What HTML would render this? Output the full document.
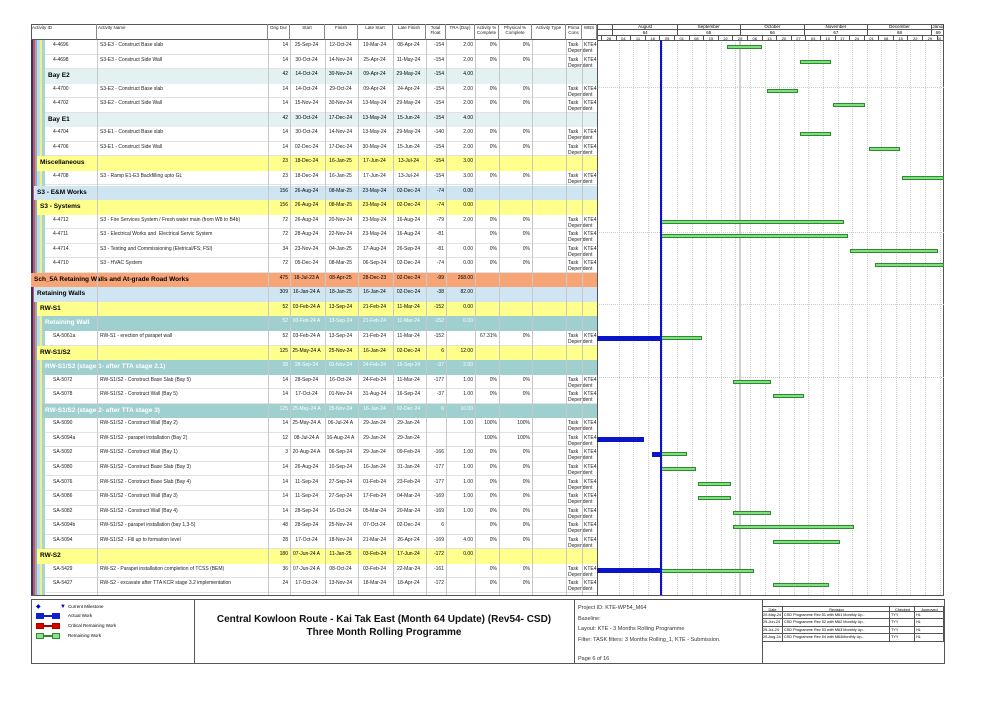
<!DOCTYPE html>
<html><head><meta charset="utf-8">
<style>
body{margin:0;background:#fff;width:1001px;height:708px;overflow:hidden;position:relative;font-family:"Liberation Sans",sans-serif;}
.a{position:absolute;box-sizing:border-box;white-space:nowrap;overflow:hidden;}
.t{font-size:5px;color:#222;line-height:6px;}
</style></head><body>
<div id="root"></div>
<script>
var R=document.getElementById('root');
function d(x,y,w,h,st,txt,cls){var e=document.createElement('div');e.className='a '+(cls||'');e.style.cssText='left:'+x+'px;top:'+y+'px;width:'+w+'px;height:'+h+'px;'+(st||'');if(txt!==undefined)e.innerHTML=txt;R.appendChild(e);return e;}
var C=[31,97,268,290,325,358,393,426,446,475,499,532,566,582,597];
var TOP=40,P=14.55,GL=597,GR=944,X0=604,S=2.085,DD=661;
var hdr=['Activity ID','Activity Name','Orig Dur','Start','Finish','Late Start','Late Finish','Total<br>Float','TRA (Day)','Activity %<br>Complete','Physical %<br>Complete','Activity Type','Prima<br>Cons','WBS'];
d(31,24,GR-31,596-24,'border:1px solid #555;');
for(var i=0;i<14;i++){d(C[i],24,C[i+1]-C[i],16,'border-right:1px solid #888;border-bottom:1px solid #555;font-size:4.5px;line-height:5px;padding:1px 1px;text-align:'+(i<2?'left':'center')+';color:#222;',hdr[i]);}
var rows=[
['t','4-4696','S3-E3 - Construct Base slab','14','25-Sep-24','12-Oct-24','19-Mar-24','08-Apr-24','-154','2.00','0%','0%'],
['t','4-4698','S3-E3 - Construct Side Wall','14','30-Oct-24','14-Nov-24','25-Apr-24','11-May-24','-154','2.00','0%','0%'],
['gE','','Bay E2','42','14-Oct-24','30-Nov-24','09-Apr-24','29-May-24','-154','4.00'],
['t','4-4700','S3-E2 - Construct Base slab','14','14-Oct-24','29-Oct-24','09-Apr-24','24-Apr-24','-154','2.00','0%','0%'],
['t','4-4702','S3-E2 - Construct Side Wall','14','15-Nov-24','30-Nov-24','13-May-24','29-May-24','-154','2.00','0%','0%'],
['gE','','Bay E1','42','30-Oct-24','17-Dec-24','13-May-24','15-Jun-24','-154','4.00'],
['t','4-4704','S3-E1 - Construct Base slab','14','30-Oct-24','14-Nov-24','13-May-24','29-May-24','-140','2.00','0%','0%'],
['t','4-4706','S3-E1 - Construct Side Wall','14','02-Dec-24','17-Dec-24','30-May-24','15-Jun-24','-154','2.00','0%','0%'],
['gY','','Miscellaneous','23','18-Dec-24','16-Jan-25','17-Jun-24','13-Jul-24','-154','3.00'],
['t','4-4708','S3 - Ramp E1-E3 Backfilling upto GL','23','18-Dec-24','16-Jan-25','17-Jun-24','13-Jul-24','-154','3.00','0%','0%'],
['gB','','S3 - E&amp;M Works','156','26-Aug-24','08-Mar-25','23-May-24','02-Dec-24','-74','0.00'],
['gY','','S3 - Systems','156','26-Aug-24','08-Mar-25','23-May-24','02-Dec-24','-74','0.00'],
['t','4-4712','S3 - Fire Services System / Fresh water main (from W8 to B4b)','72','26-Aug-24','20-Nov-24','23-May-24','16-Aug-24','-79','2.00','0%','0%'],
['t','4-4711','S3 - Electrical Works and &nbsp;Electrical Servic System','72','28-Aug-24','22-Nov-24','23-May-24','16-Aug-24','-81','','0%','0%'],
['t','4-4714','S3 - Testing and Commissioning (Eletrical/FS; FSI)','34','23-Nov-24','04-Jan-25','17-Aug-24','26-Sep-24','-81','0.00','0%','0%'],
['t','4-4710','S3 - HVAC System','72','05-Dec-24','08-Mar-25','06-Sep-24','02-Dec-24','-74','0.00','0%','0%'],
['gO','','Sch_5A Retaining Walls and At-grade Road Works','475','18-Jul-23 A','08-Apr-25','28-Dec-23','02-Dec-24','-99','268.00'],
['gB','','Retaining Walls','309','16-Jan-24 A','18-Jan-25','16-Jan-24','02-Dec-24','-38','82.00'],
['gY','','RW-S1','52','03-Feb-24 A','13-Sep-24','21-Feb-24','11-Mar-24','-152','0.00'],
['gT','','Retaining Wall','52','03-Feb-24 A','13-Sep-24','21-Feb-24','11-Mar-24','-152','0.00'],
['t','SA-5061a','RW-S1 - erection of parapet wall','52','03-Feb-24 A','13-Sep-24','21-Feb-24','11-Mar-24','-152','','67.31%','0%'],
['gY','','RW-S1/S2','125','25-May-24 A','25-Nov-24','16-Jan-24','02-Dec-24','6','12.00'],
['gT','','RW-S1/S2 (stage 1- after TTA stage 2.1)','28','28-Sep-24','01-Nov-24','24-Feb-24','16-Sep-24','-37','2.00'],
['t','SA-5072','RW-S1/S2 - Construct Base Slab (Bay 5)','14','28-Sep-24','16-Oct-24','24-Feb-24','11-Mar-24','-177','1.00','0%','0%'],
['t','SA-5078','RW-S1/S2 - Construct Wall (Bay 5)','14','17-Oct-24','01-Nov-24','31-Aug-24','16-Sep-24','-37','1.00','0%','0%'],
['gT','','RW-S1/S2 (stage 2- after TTA stage 3)','125','25-May-24 A','25-Nov-24','16-Jan-24','02-Dec-24','6','10.00'],
['t','SA-5090','RW-S1/S2 - Construct Wall (Bay 2)','14','25-May-24 A','06-Jul-24 A','29-Jan-24','29-Jan-24','','1.00','100%','100%'],
['t','SA-5094a','RW-S1/S2 - parapet installation (Bay 2)','12','08-Jul-24 A','16-Aug-24 A','29-Jan-24','29-Jan-24','','','100%','100%'],
['t','SA-5092','RW-S1/S2 - Construct Wall (Bay 1)','3','20-Aug-24 A','06-Sep-24','29-Jan-24','09-Feb-24','-166','1.00','0%','0%'],
['t','SA-5080','RW-S1/S2 - Construct Base Slab (Bay 3)','14','26-Aug-24','10-Sep-24','16-Jan-24','31-Jan-24','-177','1.00','0%','0%'],
['t','SA-5076','RW-S1/S2 - Construct Base Slab (Bay 4)','14','11-Sep-24','27-Sep-24','01-Feb-24','23-Feb-24','-177','1.00','0%','0%'],
['t','SA-5086','RW-S1/S2 - Construct Wall (Bay 3)','14','11-Sep-24','27-Sep-24','17-Feb-24','04-Mar-24','-169','1.00','0%','0%'],
['t','SA-5082','RW-S1/S2 - Construct Wall (Bay 4)','14','28-Sep-24','16-Oct-24','05-Mar-24','20-Mar-24','-169','1.00','0%','0%'],
['t','SA-5094b','RW-S1/S2 - parapet installation (bay 1,3-5)','48','28-Sep-24','25-Nov-24','07-Oct-24','02-Dec-24','6','','0%','0%'],
['t','SA-5094','RW-S1/S2 - Fill up to formation level','28','17-Oct-24','18-Nov-24','21-Mar-24','26-Apr-24','-169','4.00','0%','0%'],
['gY','','RW-S2','180','07-Jun-24 A','11-Jan-25','03-Feb-24','17-Jun-24','-172','0.00'],
['t','SA-5429','RW-S2 - Parapet installation completion of TCSS (BEM)','36','07-Jun-24 A','08-Oct-24','03-Feb-24','22-Mar-24','-161','','0%','0%'],
['t','SA-5427','RW-S2 - excavate after TTA KCR stage 3.2 implementation','24','17-Oct-24','13-Nov-24','18-Mar-24','18-Apr-24','-172','','0%','0%']
];
var G={gE:['#e4f1f3',45,'#000'],gY:['#ffff8c',37,'#000'],gB:['#cfe6f2',34,'#000'],gO:['#f7a477',31,'#000'],gT:['#9fcfcf',42,'#fff']};
var M={Jan:0,Feb:1,Mar:2,Apr:3,May:4,Jun:5,Jul:6,Aug:7,Sep:8,Oct:9,Nov:10,Dec:11};
function dx(s){var p=s.split(' ')[0].split('-');var t=Date.UTC(2000+ +p[2],M[p[1]],+p[0]);var b=Date.UTC(2024,6,28);return X0+(t-b)/864e5*S;}
var sc=[[31,2,'#2b2f8f'],[33,2,'#d9553a'],[35,2,'#8aa9c9'],[37,3,'#b9dcee'],[40,2,'#f2f07a'],[42,3,'#a8d4d4']];
sc.forEach(function(s){d(s[0],TOP,s[1],595-TOP,'background:'+s[2]+';');});
for(var k=0;k<24;k++){var wx=X0+k*7*S;if(k>0)d(wx,TOP,0,595-TOP,'border-left:1px dotted #cfcfcf;');}
[232,304,377,87].forEach(function(h){d(GL,h,GR-GL,0,'border-top:1px dotted #ccc;');});
d(739,TOP,2,595-TOP,'background:#cfcfcf;');
rows.forEach(function(r,i){
 var y=TOP+i*P,g=G[r[0]];
 if(g){d(g[1],y,C[14]-g[1],P,'background:'+g[0]+';');
  d(g[1]+3,y,C[2]-g[1],P,'font-weight:bold;font-size:6.5px;line-height:'+P+'px;color:'+g[2]+';',r[2]);
 } else {
  d(45,y,C[14]-45,P,'background:#fff;border-bottom:1px solid #e2e2e2;');
  d(C[0]+22,y+2,C[1]-C[0]-22,8,'',r[1],'t');
  d(C[1]+3,y+2,C[2]-C[1]-3,8,'',r[2],'t');
  d(C[12]+2,y+2,34,12,'','Task<br>Dependent','t');
  d(C[13]+2,y+2,15,8,'','KTE4','t');
 }
 var col=g?g[2]:'#222';
 var vals=[r[3],r[4],r[5],r[6],r[7],r[8],r[9],r[10]||'',r[11]||''];
 for(var j=0;j<9;j++){var al=(j>=1&&j<=4)?'center':'right';
  d(C[j+2],y+2,C[j+3]-C[j+2]-2,8,'text-align:'+al+';color:'+col+';',vals[j],'t');}
});
for(var i=1;i<14;i++)d(C[i],TOP,0,595-TOP,'border-left:1px solid #c8c8c8;');
d(GL,24,0,572,'border-left:1px solid #555;');
d(GL,24,GR-GL,6,'border-bottom:1px solid #555;');d(GL,30,GR-GL,6,'border-bottom:1px solid #555;');d(GL,36,GR-GL,5,'border-bottom:1px solid #555;');
var mo=[['August','64','01-Aug-24','01-Sep-24'],['September','65','01-Sep-24','01-Oct-24'],['October','66','01-Oct-24','01-Nov-24'],['November','67','01-Nov-24','01-Dec-24'],['December','68','01-Dec-24','01-Jan-25'],['Januar','69','01-Jan-25','01-Feb-25']];
mo.forEach(function(m){var a=dx(m[2]),b=Math.min(dx(m[3]),GR);
 d(a,24,b-a,6,'border-left:1px solid #555;text-align:center;font-size:4.5px;line-height:6px;',m[0]);
 d(a,30,b-a,6,'border-left:1px solid #555;text-align:center;font-size:4.5px;line-height:6px;',m[1]);});
var wl=['28','04','11','18','25','01','08','15','22','29','06','13','20','27','03','10','17','24','01','08','15','22','29','05'];
wl.forEach(function(w,k){var a=X0+k*7*S;var b=Math.min(a+7*S,GR);d(a-3,36,b-a,5,'border-left:1px solid #555;text-align:center;font-size:4px;line-height:5px;',w);});
rows.forEach(function(r,i){
 if(r[0]!='t')return;var y=TOP+i*P+5;var s=r[4],f=r[5];
 var a=dx(s),b=dx(f);var act=s.indexOf('A')>0;var fin=f.indexOf('A')>0;
 if(act){var ab=fin?b:DD;var aa=Math.max(a,GL);if(ab>aa)d(aa,y-0.5,ab-aa,5,'background:#0a14c8;');a=DD;}
 if(!fin&&b>a){b=Math.min(b,GR);d(a,y,b-a,4,'background:#7ee07e;border:1px solid #2f8a2f;');}
});
d(DD-1,TOP,2,595-TOP,'background:#1010d0;');
// footer
var FT=599,FB=664;
d(31,FT,GR-31+1,FB-FT,'border:1px solid #555;');
d(194,FT,0,FB-FT,'border-left:1px solid #555;');d(574,FT,0,FB-FT,'border-left:1px solid #555;');d(762,FT,0,FB-FT,'border-left:1px solid #555;');
d(36,604,6,6,'color:#00c;font-size:6px;line-height:6px;','◆');d(60,604,5,6,'color:#00c;font-size:6px;line-height:6px;','&#9660;');
d(68,604,80,6,'font-size:4.5px;line-height:6px;','Current Milestone');
[[613,'#1020d0','#1020d0','Actual Work'],[623,'#d00','#a00','Critical Remaining Work'],[633,'#8ee08e','#2f8a2f','Remaining Work']].forEach(function(l){
 d(36,l[0],8,6,'background:'+l[1]+';border:1px solid '+l[2]+';');d(44,l[0]+2,8,2,'background:'+l[2]+';');d(52,l[0],8,6,'background:'+l[1]+';border:1px solid '+l[2]+';');
 d(68,l[0],100,6,'font-size:4.5px;line-height:6px;',l[3]);});
d(194,614,380,12,'text-align:center;font-weight:bold;font-size:10px;line-height:12px;color:#111;','Central Kowloon Route - Kai Tak East (Month 64 Update) (Rev54- CSD)');
d(194,627,380,12,'text-align:center;font-weight:bold;font-size:10px;line-height:12px;color:#111;','Three Month Rolling Programme');
['Project ID: KTE-WP54_M64','Baseline:','Layout: KTE - 3 Months Rolling Programme','Filter: TASK filters: 3 Months Rolling_1, KTE - Submission.'].forEach(function(t,k){d(578,604+k*10.5,184,8,'font-size:5.5px;line-height:8px;color:#333;',t);});
d(578,655,100,8,'font-size:5.5px;line-height:8px;color:#333;','Page 6 of 16');
var rc=[762,783,890,915,944];
var rv=[['Date','Revision','Checked','Approved'],['20-May-24','CSD Programme Rev 51 with M61 Monthly Up..','TYY','HL'],['25-Jun-24','CSD Programme Rev 52 with M62 Monthly Up..','TYY','HL'],['25-Jul-24','CSD Programme Rev 53 with M63 Monthly Up..','TYY','HL'],['20-Aug-24','CSD Programme Rev 54 with M64Monthly Up..','TYY','HL']];
var ry=[606,612,619,627,634,642];
rv.forEach(function(r,k){for(var j=0;j<4;j++){d(rc[j],ry[k],rc[j+1]-rc[j],ry[k+1]-ry[k],'border-right:1px solid #555;border-bottom:1px solid #555;border-top:'+(k==0?'1px solid #555':'0')+';font-size:3.8px;line-height:6px;padding-left:1px;text-align:'+(k==0?'center':'left')+';',r[j]);}});
</script>
</body></html>
